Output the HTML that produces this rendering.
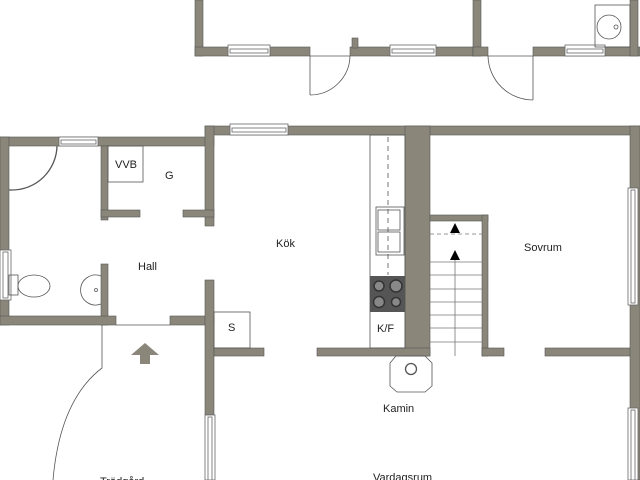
<!DOCTYPE html>
<html><head><meta charset="utf-8"><style>
html,body{margin:0;padding:0;background:#fff;}
svg{display:block;}
text{font-family:"Liberation Sans",sans-serif;font-size:11px;fill:#222;}
</style></head><body>
<svg width="640" height="480" viewBox="0 0 640 480" xmlns="http://www.w3.org/2000/svg">
<g fill="#8a877a" stroke="#555" stroke-width="0.6">
<rect x="195" y="0" width="8" height="56"/>
<rect x="195" y="47" width="115" height="9"/>
<rect x="350" y="47" width="124" height="9"/>
<rect x="352" y="38" width="6" height="10"/>
<rect x="473" y="0" width="8" height="56"/>
<rect x="473" y="47" width="15" height="9"/>
<rect x="533" y="47" width="107" height="9"/>
<rect x="630" y="0" width="8" height="56"/>
<rect x="205" y="126" width="435" height="9"/>
<rect x="0" y="137" width="214" height="9"/>
<rect x="0" y="137" width="9" height="188"/>
<rect x="205" y="126" width="9" height="100"/>
<rect x="101" y="146" width="7" height="74"/>
<rect x="101" y="210" width="39" height="7"/>
<rect x="183" y="210" width="31" height="7"/>
<rect x="101" y="264" width="7" height="61"/>
<rect x="0" y="316" width="116" height="9"/>
<rect x="170" y="316" width="44" height="9"/>
<rect x="205" y="280" width="9" height="135"/>
<rect x="214" y="348" width="50" height="8"/>
<rect x="405" y="126" width="25" height="230"/>
<rect x="317" y="348" width="113" height="8"/>
<rect x="430" y="215" width="58" height="6"/>
<rect x="482" y="215" width="6" height="141"/>
<rect x="482" y="348" width="22" height="8"/>
<rect x="545" y="348" width="95" height="8"/>
<rect x="630" y="126" width="10" height="354"/>
</g>
<g fill="#fff" stroke="#666" stroke-width="0.8">
<rect x="228" y="45" width="42" height="11"/><rect x="230" y="49" width="38" height="4"/>
<rect x="390" y="45" width="46" height="11"/><rect x="392" y="49" width="42" height="4"/>
<rect x="565" y="45" width="40" height="11"/><rect x="567" y="49" width="36" height="4"/>
<rect x="230" y="124" width="58" height="11"/><rect x="232" y="128" width="54" height="4"/>
<rect x="59" y="137" width="39" height="9"/><rect x="61" y="140" width="35" height="4"/>
<rect x="0" y="250" width="11" height="50"/><rect x="3" y="252" width="5" height="46"/>
<rect x="628" y="188" width="10" height="117"/><rect x="631" y="190" width="4" height="113"/>
<rect x="628" y="408" width="10" height="72"/><rect x="631" y="410" width="4" height="70"/>
<rect x="205" y="415" width="10" height="65"/><rect x="208" y="417" width="4" height="63"/>
</g>
<g fill="none" stroke="#555" stroke-width="0.8">
<line x1="310" y1="56" x2="350" y2="56"/><line x1="488" y1="56" x2="533" y2="56"/>
<line x1="310" y1="56" x2="310" y2="95"/><path d="M310 95 A40 40 0 0 0 350 56"/>
<line x1="533" y1="56" x2="533" y2="100"/><path d="M488 56 A45 45 0 0 0 533 100"/>
<rect x="595" y="5" width="35" height="42"/><circle cx="609" cy="27" r="12"/><circle cx="616" cy="27" r="2"/>
<path d="M9 190 L12 190 A45 45 0 0 0 57 146" stroke-width="1.3"/>
<rect x="108" y="146" width="35" height="36"/>
<rect x="214" y="312" width="36" height="36"/>
<rect x="9" y="275" width="9" height="20"/>
<ellipse cx="34" cy="286" rx="16" ry="11"/>
<path d="M101 276 A15 15 0 1 0 101 304"/><circle cx="96" cy="290" r="1.5"/>
<line x1="116" y1="325" x2="170" y2="325"/>
<path d="M102 325 L102 368 Q60 400 53 480"/>
<rect x="370" y="135" width="35" height="213"/>
<line x1="388" y1="137" x2="388" y2="275" stroke-dasharray="5,4"/>
<rect x="376" y="207" width="28" height="48"/>
<rect x="378" y="210" width="22" height="20"/><rect x="378" y="232" width="22" height="20"/>
<g stroke="#777">
<line x1="430" y1="234" x2="482" y2="234" stroke-dasharray="4,3"/>
<line x1="430" y1="262" x2="482" y2="262"/><line x1="430" y1="275" x2="482" y2="275"/>
<line x1="430" y1="289" x2="482" y2="289"/><line x1="430" y1="302" x2="482" y2="302"/>
<line x1="430" y1="315" x2="482" y2="315"/><line x1="430" y1="328" x2="482" y2="328"/>
<line x1="430" y1="342" x2="482" y2="342"/>
<line x1="455" y1="258" x2="455" y2="356"/>
</g>
<path d="M396 356 L425 356 L432 363 L432 386 L425 392 L397 392 L390 386 L390 363 Z"/>
<circle cx="411" cy="369" r="5.5" stroke-width="1.3"/>
</g>
<rect x="370" y="276" width="35" height="36" fill="#555"/>
<g fill="#888" stroke="#333" stroke-width="1.5"><circle cx="379" cy="286" r="5"/><circle cx="396" cy="286" r="6"/><circle cx="379" cy="302" r="5.5"/><circle cx="396" cy="302" r="4.5"/></g>
<path d="M455 223 L460 233 L450 233 Z M455 250 L460 260 L450 260 Z" fill="#000"/>
<path d="M145 343 L159 355 L150 355 L150 364 L140 364 L140 355 L131 355 Z" fill="#8a877a"/>
<text x="115" y="168">VVB</text>
<text x="165" y="179">G</text>
<text x="138" y="270">Hall</text>
<text x="276" y="247">Kök</text>
<text x="228" y="331">S</text>
<text x="377" y="332">K/F</text>
<text x="524" y="251">Sovrum</text>
<text x="383" y="412">Kamin</text>
<text x="373" y="481">Vardagsrum</text>
<text x="100" y="485">Trädgård</text>
</svg>
</body></html>
